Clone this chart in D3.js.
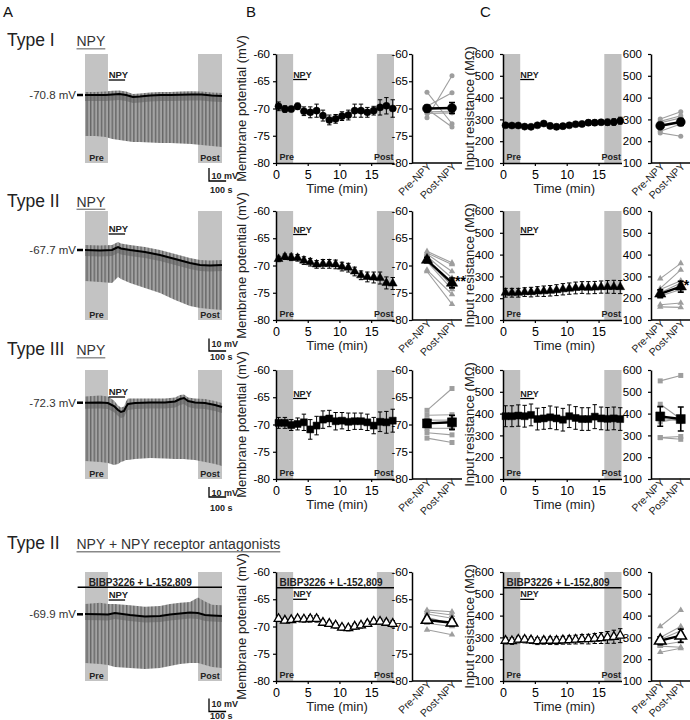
<!DOCTYPE html>
<html><head><meta charset="utf-8">
<script src="https://cdn.jsdelivr.net/npm/d3@7/dist/d3.min.js"></script>
<style>html,body{margin:0;padding:0;background:#fff;}</style>
</head><body><div id="chart"></div>
<script>
// ================= DATA =================
// B/C time-course (minutes)
const timeMin = [0.4,1.4,2.4,3.4,4.4,5.4,6.4,7.4,8.4,9.4,10.4,11.4,12.4,13.4,14.4,15.4,16.4,17.4,18.4];
const timeTicks = [0,5,10,15];
const mpTicks = [-80,-75,-70,-65,-60];
const rinTicks = [100,200,300,400,500,600];
const prePostLabels = ["Pre-NPY","Post-NPY"];

// Membrane potential (mV), mean ± SEM
const mpType1 = [-69.6,-70.1,-70.1,-69.6,-70.5,-70.7,-70.4,-71.3,-72.1,-71.9,-71.4,-71.2,-70.4,-70.4,-70.7,-70.4,-69.8,-69.5,-70.0];
const mpType1Err = [0.8,0.6,0.5,0.6,0.8,1.0,1.2,1.0,0.9,0.8,0.8,0.9,1.2,1.2,0.9,0.8,1.4,1.5,1.6];
const mpType2 = [-68.8,-68.4,-68.5,-68.6,-69.1,-69.4,-69.8,-69.7,-69.7,-69.8,-70.2,-70.4,-71.1,-71.8,-72.1,-72.2,-72.3,-73.2,-73.3];
const mpType2Err = [0.5,0.5,0.6,0.6,0.7,0.7,0.7,0.8,0.8,0.8,0.8,0.8,0.8,0.8,0.9,1.0,1.1,1.1,1.1];
const mpType3 = [-69.7,-69.7,-70.1,-69.9,-69.6,-70.9,-70.2,-69.1,-68.9,-69.4,-69.3,-69.5,-69.4,-69.4,-69.6,-70.2,-69.5,-69.6,-69.3];
const mpType3Err = [1.0,1.0,1.0,1.1,1.5,1.8,1.7,1.6,1.5,1.6,1.5,1.6,1.5,1.5,1.5,1.5,1.8,2.0,2.1];
const mpAnt = [-68.6,-68.9,-68.8,-68.6,-68.7,-68.6,-68.6,-69.3,-69.5,-69.8,-70.2,-70.3,-70.0,-69.8,-69.5,-69.1,-69.1,-69.3,-69.5];
const mpAntErr = [0.5,0.4,0.4,0.5,0.5,0.6,0.6,0.5,0.5,0.5,0.5,0.5,0.5,0.5,0.5,0.5,0.5,0.5,0.6];

// Input resistance (MOhm), mean ± SEM
const rinType1 = [273,272,272,267,266,273,281,270,266,269,273,278,279,285,285,287,287,288,294];
const rinType1Err = [8,8,8,8,8,8,10,12,12,12,10,10,12,12,12,12,14,15,16];
const rinType2 = [225,225,225,228,228,231,232,234,237,241,244,247,249,248,249,251,252,252,251];
const rinType2Err = [20,20,20,20,22,22,24,24,25,26,26,27,27,28,28,28,29,30,30];
const rinType3 = [388,388,391,388,394,375,378,383,378,372,388,380,375,375,386,378,376,378,375];
const rinType3Err = [48,48,49,50,50,50,50,52,52,52,52,52,52,52,55,52,52,52,52];
const rinAnt = [285,283,290,290,287,283,285,285,285,287,288,290,292,292,295,297,300,303,308];
const rinAntErr = [15,15,15,15,15,16,16,17,18,18,19,20,21,22,23,25,27,30,32];

// Individual cells, pre vs post
const mpType1Pre  = [-67.0,-69.6,-70.1,-70.6,-70.9,-71.7];
const mpType1Post = [-72.8,-67.1,-73.4,-70.5,-70.8,-64.0];
const mpType1Mean = [-70.0,-69.9], mpType1MeanErr = [0.6,1.0];
const mpType2Pre  = [-67.4,-67.7,-67.9,-68.3,-68.9,-69.3,-70.8,-71.1];
const mpType2Post = [-69.5,-69.8,-71.1,-72.3,-73.8,-74.4,-75.3,-77.1];
const mpType2Mean = [-69.0,-73.2], mpType2MeanErr = [0.5,0.9];
const mpType3Pre  = [-67.4,-68.3,-69.2,-70.7,-71.5,-72.5];
const mpType3Post = [-63.4,-68.2,-69.2,-70.7,-71.9,-73.3];
const mpType3Mean = [-69.8,-69.6], mpType3MeanErr = [0.7,1.3];
const mpAntPre  = [-67.0,-67.3,-67.7,-68.3,-69.4,-70.6];
const mpAntPost = [-67.3,-67.9,-68.5,-69.5,-70.0,-71.5];
const mpAntMean = [-68.8,-69.3], mpAntMeanErr = [0.5,0.6];

const rinType1Pre  = [238,246,268,284,291,302];
const rinType1Post = [223,279,290,307,317,335];
const rinType1Mean = [271,288], rinType1MeanErr = [10,16];
const rinType2Pre  = [290,245,240,225,210,170,160];
const rinType2Post = [360,330,280,270,240,178,158];
const rinType2Mean = [220,253], rinType2MeanErr = [18,25];
const rinType3Pre  = [550,443,380,362,290,290];
const rinType3Post = [575,375,365,378,295,282];
const rinType3Mean = [387,375], rinType3MeanErr = [45,55];
const rinAntPre  = [350,300,290,265,260,232];
const rinAntPost = [425,350,330,280,255,250];
const rinAntMean = [285,308], rinAntMeanErr = [18,30];

// Protocol windows (min)
const timeDomain = [0, 18.6];
const preWindow = [0, 2.7];
const postWindow = [15.9, 18.6];
const npyWindow = [2.7, 4.9];

// A: example traces (time in s, voltage in mV)
const restMp = [-70.8, -67.7, -72.3, -69.9];
const traceT1 = [0,60,120,160,200,240,280,320,380,440,500,560,620,680,740,800];
const traceBase1 = [-70.8,-70.8,-70.8,-70.4,-70.0,-70.8,-72.3,-72.0,-71.2,-70.8,-70.8,-70.6,-70.4,-70.4,-71.2,-71.6];
const traceTop1 = [-68.5,-68.4,-68.2,-67.6,-67.4,-68.2,-70.0,-69.6,-68.9,-68.5,-68.5,-68.1,-68.0,-68.2,-68.8,-69.3];
const traceBot1 = [-102.3,-102.3,-103.1,-104.6,-105.4,-106.2,-107.0,-107.0,-107.3,-107.7,-107.7,-108.1,-108.5,-109.3,-110.0,-110.8];
const traceT2 = [0,88,158,181,193,210,263,350,438,526,613,672,730,800];
const traceBase2 = [-67.7,-68.1,-67.7,-66.1,-65.3,-66.5,-67.7,-69.3,-71.7,-74.9,-78.1,-79.7,-80.1,-79.7];
const traceTop2 = [-63.7,-64.1,-63.7,-62.1,-61.3,-62.5,-63.7,-65.3,-67.7,-70.9,-74.1,-75.7,-76.1,-75.7];
const traceBot2 = [-92.5,-93.3,-94.1,-90.9,-89.3,-90.9,-94.1,-98.1,-102.1,-107.7,-112.5,-114.1,-114.9,-115.7];
const traceT3 = [0,88,134,169,193,210,228,239,251,292,380,467,526,555,578,602,642,701,759,800];
const traceBase3 = [-72.3,-72.1,-72.6,-75.6,-79.6,-81.6,-80.6,-76.6,-73.6,-72.6,-72.1,-72.1,-71.1,-68.6,-67.6,-70.6,-72.1,-72.6,-74.6,-76.6];
const traceTop3 = [-66,-65,-66,-70,-75,-77,-76,-71,-68,-68,-68,-68,-67,-64.5,-64,-67,-68,-68.5,-70.5,-72.5];
const traceBot3 = [-130.6,-131.6,-132.6,-134.6,-133.6,-131.6,-130.6,-129.6,-129.6,-128.6,-127.6,-128.1,-128.6,-128.6,-128.6,-129.1,-129.6,-131.6,-133.6,-135.6];
const traceT4 = [0,88,134,175,263,350,438,496,555,613,660,701,742,800];
const traceBase4 = [-69.7,-69.9,-70.1,-68.9,-70.4,-71.6,-71.2,-70.1,-69.3,-68.5,-68.9,-70.4,-70.8,-71.2];
const traceTop4 = [-62,-61,-62,-62,-63,-64,-63.5,-62,-61,-60.5,-57,-60,-62.5,-63];
const traceBot4 = [-107.4,-108.1,-108.9,-110.4,-111.2,-112.0,-111.2,-109.7,-108.1,-107.4,-107.4,-108.9,-110.4,-111.2];
const tracePreSec = [0, 134];
const tracePostSec = [660, 800];
const traceNpySec = [138, 234];
const traceAntSec = [-43, 800];

const typeLabels = ["Type I","Type II","Type III","Type II"];
const drugLabels = ["NPY","NPY","NPY","NPY + NPY receptor antagonists"];
const antagonistLabel = "BIBP3226 + L-152,809";

// ================= LAYOUT =================
const FONT = "'Liberation Sans', Arial, Helvetica, sans-serif";
const NARROW = "'Liberation Sans Narrow', 'Arial Narrow', 'Liberation Sans', Arial, sans-serif";
const W = 690, H = 720;
const rowTop = [54, 211, 370, 572];
const rowH = 109;
const headingY = [46, 206.5, 355, 549];
const traceY0 = [95, 250, 402.7, 614.3];
const traceGain = [1.3, 1.25, 1.0, 1.3];
const traceNpyY = [80, 234, 397, 600];
const scaleCornerY = [181, 351, 497, 711.5];
const scaleMvY = [179, 347, 495.5, 707];
const scaleSecY = [193, 360, 511, 719];
const mainNpyY = [25.5, 23.5, 28.5, 27.3];

const svg = d3.select("#chart").append("svg").attr("width", W).attr("height", H)
  .attr("font-family", FONT);
const defs = svg.append("defs");
const pat = defs.append("pattern").attr("id","pulses").attr("patternUnits","userSpaceOnUse")
  .attr("width",3.6).attr("height",8);
pat.append("rect").attr("width",3.6).attr("height",8).attr("fill","#a3a3a3");
pat.append("rect").attr("width",1.4).attr("height",8).attr("fill","#666");

// Panel letters
[["A",3],["B",246],["C",480]].forEach(([s,x]) =>
  svg.append("text").attr("x",x).attr("y",17).attr("font-size",15).attr("fill","#111").text(s));

// Row headings
typeLabels.forEach((s,i) => {
  svg.append("text").attr("x",7).attr("y",headingY[i]).attr("font-size",17.5).attr("fill","#222").text(s);
  const t = svg.append("text").attr("x",76.5).attr("y",headingY[i]).attr("font-size",14).attr("fill","#333").text(drugLabels[i]);
  const len = t.node().getComputedTextLength();
  svg.append("line").attr("x1",76.5).attr("x2",76.5+len).attr("y1",headingY[i]+2.8).attr("y2",headingY[i]+2.8)
    .attr("stroke","#888").attr("stroke-width",1.4);
});

// ---------- A: traces ----------
const traceX = d3.scaleLinear().domain([0, 800]).range([85, 222]);
const traceSets = [
  {t: traceT1, base: traceBase1, top: traceTop1, bot: traceBot1},
  {t: traceT2, base: traceBase2, top: traceTop2, bot: traceBot2},
  {t: traceT3, base: traceBase3, top: traceTop3, bot: traceBot3},
  {t: traceT4, base: traceBase4, top: traceTop4, bot: traceBot4}
];

function boldLabel(g, x, y, s, anchor, size) {
  return g.append("text").attr("x",x).attr("y",y).attr("font-family",NARROW).attr("font-weight","bold")
    .attr("font-size",size || 9).attr("fill","#222").attr("text-anchor",anchor || "start").text(s);
}

traceSets.forEach((d, i) => {
  const g = svg.append("g");
  const top = rowTop[i], bot = rowTop[i] + rowH;
  const v0 = restMp[i], y0 = traceY0[i], gain = traceGain[i];
  const ty = d3.scaleLinear().domain([v0 - 10, v0]).range([y0 + 10*gain, y0]);
  [tracePreSec, tracePostSec].forEach(w =>
    g.append("rect").attr("x",traceX(w[0])).attr("width",traceX(w[1])-traceX(w[0]))
      .attr("y",top).attr("height",rowH).attr("fill","#c3c3c3"));
  const idx = d3.range(d.t.length);
  const area = d3.area().x(k => traceX(d.t[k])).y0(k => ty(d.bot[k])).y1(k => ty(d.top[k]));
  g.append("path").attr("d", area(idx)).attr("fill","url(#pulses)");
  // darker band just under the resting trace (dense pulse onsets)
  const band = d3.area().x(k => traceX(d.t[k])).y0(k => ty(d.base[k]) + 6).y1(k => ty(d.base[k]));
  g.append("path").attr("d", band(idx)).attr("fill","#5e5e5e").attr("opacity",0.55);
  const line = d3.line().x(k => traceX(d.t[k])).y(k => ty(d.base[k]));
  g.append("path").attr("d", line(idx)).attr("fill","none").attr("stroke","#000").attr("stroke-width",2);
  // rest potential label
  g.append("text").attr("x",76).attr("y",ty(v0)+4).attr("text-anchor","end").attr("font-size",11.5)
    .attr("fill","#333").text(v0.toFixed(1) + " mV");
  g.append("line").attr("x1",77).attr("x2",83).attr("y1",ty(v0)).attr("y2",ty(v0)).attr("stroke","#000").attr("stroke-width",2.5);
  // Pre / Post
  boldLabel(g, (traceX(tracePreSec[0])+traceX(tracePreSec[1]))/2, bot-2, "Pre", "middle");
  boldLabel(g, (traceX(tracePostSec[0])+traceX(tracePostSec[1]))/2, bot-2, "Post", "middle");
  // NPY bar
  boldLabel(g, traceX(traceNpySec[0]), traceNpyY[i]-2, "NPY", "start", 9.5);
  g.append("line").attr("x1",traceX(traceNpySec[0])).attr("x2",traceX(traceNpySec[1]))
    .attr("y1",traceNpyY[i]).attr("y2",traceNpyY[i]).attr("stroke","#000").attr("stroke-width",1.3);
  if (i === 3) {
    g.append("line").attr("x1",traceX(traceAntSec[0])).attr("x2",traceX(traceAntSec[1]))
      .attr("y1",587.3).attr("y2",587.3).attr("stroke","#000").attr("stroke-width",1.5);
    boldLabel(g, traceX(traceNpySec[0]) - 20, 585.5, antagonistLabel, "start", 10);
  }
  // scale bar: 10 mV, 100 s
  const cy = scaleCornerY[i], cx = 209;
  const vLen = ty(v0 - 10) - ty(v0);
  const hLen = traceX(100) - traceX(0);
  g.append("path").attr("d", `M${cx},${cy - vLen}V${cy}H${cx + hLen}`).attr("fill","none")
    .attr("stroke","#000").attr("stroke-width",1.3);
  boldLabel(g, cx + 2.5, scaleMvY[i], "10 mV", "start", 9);
  boldLabel(g, cx + 1, scaleSecY[i], "100 s", "start", 9);
});

// ---------- B & C ----------
const panels = {
  B: {x0:276, x1:394, yDomain:[-80,-60], yTicks: mpTicks, sx0:412, sx1:467, spad:0.6, sAxisEnd:462, sPad:1,
      ylab:"Membrane potential (mV)", ylabX:246, tickPad:3},
  C: {x0:503, x1:621.5, yDomain:[100,600], yTicks: rinTicks, sx0:651, sx1:690, spad:0.45, sAxisEnd:690, sPad:6,
      ylab:"Input resistance (M\u03A9)", ylabX:473.5, tickPad:6}
};

const rowsData = [
  {B:{v:mpType1, e:mpType1Err, pre:mpType1Pre, post:mpType1Post, m:mpType1Mean, me:mpType1MeanErr, star:""},
   C:{v:rinType1, e:rinType1Err, pre:rinType1Pre, post:rinType1Post, m:rinType1Mean, me:rinType1MeanErr, star:""},
   shape:"circle", open:false},
  {B:{v:mpType2, e:mpType2Err, pre:mpType2Pre, post:mpType2Post, m:mpType2Mean, me:mpType2MeanErr, star:"**"},
   C:{v:rinType2, e:rinType2Err, pre:rinType2Pre, post:rinType2Post, m:rinType2Mean, me:rinType2MeanErr, star:"*"},
   shape:"triangle", open:false},
  {B:{v:mpType3, e:mpType3Err, pre:mpType3Pre, post:mpType3Post, m:mpType3Mean, me:mpType3MeanErr, star:""},
   C:{v:rinType3, e:rinType3Err, pre:rinType3Pre, post:rinType3Post, m:rinType3Mean, me:rinType3MeanErr, star:""},
   shape:"square", open:false},
  {B:{v:mpAnt, e:mpAntErr, pre:mpAntPre, post:mpAntPost, m:mpAntMean, me:mpAntMeanErr, star:""},
   C:{v:rinAnt, e:rinAntErr, pre:rinAntPre, post:rinAntPost, m:rinAntMean, me:rinAntMeanErr, star:""},
   shape:"triangle", open:true}
];

function symType(shape) {
  return shape === "circle" ? d3.symbolCircle : shape === "square" ? d3.symbolSquare : d3.symbolTriangle;
}
const sizes = {
  main: {circle:40, square:49, triangle:34},
  mean: {circle:64, square:81, triangle:56},
  ind:  {circle:20, square:25, triangle:18}
};

function styleAxis(g) {
  g.attr("font-family", NARROW).attr("font-size", 11.5);
  g.select(".domain").attr("stroke","#000").attr("stroke-width",1.5);
  g.selectAll(".tick line").attr("stroke","#000").attr("stroke-width",1.2);
  g.selectAll(".tick text").attr("fill","#000");
}

function errBar(g, x, yLo, yHi, cap, w) {
  g.append("path").attr("d", `M${x},${yLo}V${yHi}M${x-cap},${yLo}H${x+cap}M${x-cap},${yHi}H${x+cap}`)
    .attr("fill","none").attr("stroke","#000").attr("stroke-width", w || 1);
}

rowsData.forEach((row, i) => {
  ["B","C"].forEach(key => {
    const P = panels[key], D = row[key];
    const top = rowTop[i], bot = rowTop[i] + rowH;
    const g = svg.append("g");
    const x = d3.scaleLinear().domain(timeDomain).range([P.x0, P.x1]);
    const y = d3.scaleLinear().domain(P.yDomain).range([bot, top]);
    [preWindow, postWindow].forEach(w =>
      g.append("rect").attr("x",x(w[0])).attr("width",x(w[1])-x(w[0])).attr("y",top).attr("height",rowH).attr("fill","#c0c0c0"));
    boldLabel(g, x(preWindow[0]) + 3.5, bot - 3, "Pre", "start");
    boldLabel(g, x(postWindow[1]) - 0.5, bot - 3, "Post", "end");
    const ny = top + mainNpyY[i];
    boldLabel(g, x(npyWindow[0]), ny - 2, "NPY", "start");
    g.append("line").attr("x1",x(npyWindow[0])).attr("x2",x(npyWindow[1])).attr("y1",ny).attr("y2",ny)
      .attr("stroke","#000").attr("stroke-width",1.3);
    if (row.open) {
      g.append("line").attr("x1",x(timeDomain[0])).attr("x2",x(timeDomain[1])).attr("y1",top+15.7).attr("y2",top+15.7)
        .attr("stroke","#000").attr("stroke-width",1.5);
      boldLabel(g, x(timeDomain[0]) + 3.5, top + 14, antagonistLabel, "start", 10);
    }
    // axes
    const ya = g.append("g").attr("transform",`translate(${P.x0},0)`)
      .call(d3.axisLeft(y).tickValues(P.yTicks).tickSize(3).tickSizeOuter(0).tickPadding(P.tickPad).tickFormat(d => String(d)));
    styleAxis(ya);
    const xa = g.append("g").attr("transform",`translate(0,${bot})`)
      .call(d3.axisBottom(x).tickValues(timeTicks).tickSize(3).tickSizeOuter(0).tickPadding(4).tickFormat(d => String(d)));
    styleAxis(xa);
    xa.attr("font-size", 12.5);
    g.append("text").attr("x",(P.x0+P.x1)/2 + 2).attr("y",bot + 30).attr("text-anchor","middle")
      .attr("font-size",13).attr("fill","#222").text("Time (min)");
    g.append("text").attr("transform",`translate(${P.ylabX},${(top+bot)/2}) rotate(-90)`)
      .attr("text-anchor","middle").attr("font-size",13).attr("fill","#222").text(P.ylab);
    // error bars + points
    timeMin.forEach((t,k) => errBar(g, x(t), y(D.v[k]-D.e[k]), y(D.v[k]+D.e[k]), 2.2, 1));
    const sym = d3.symbol().type(symType(row.shape)).size(sizes.main[row.shape]);
    g.selectAll(null).data(timeMin).join("path")
      .attr("d", sym).attr("transform",(t,k) => `translate(${x(t)},${y(D.v[k])})`)
      .attr("fill", row.open ? "#fff" : "#000").attr("stroke","#000").attr("stroke-width", row.open ? 1.3 : 0.5);

    // ---- small pre/post panel ----
    const xs = d3.scalePoint().domain(prePostLabels).range([P.sx0, P.sx1]).padding(P.spad);
    const sya = g.append("g").attr("transform",`translate(${P.sx0},0)`)
      .call(d3.axisLeft(y).tickValues(P.yTicks).tickSize(3).tickSizeOuter(0).tickPadding(P.sPad).tickFormat(d => String(d)));
    styleAxis(sya);
    g.append("line").attr("x1",P.sx0).attr("x2",P.sAxisEnd).attr("y1",bot).attr("y2",bot)
      .attr("stroke","#000").attr("stroke-width",1.5);
    prePostLabels.forEach(c =>
      g.append("text").attr("transform",`translate(${xs(c)+5},${bot+4}) rotate(-45)`)
        .attr("text-anchor","end").attr("font-family",NARROW).attr("font-size",10.5).attr("fill","#222").text(c));
    const xPre = xs(prePostLabels[0]), xPost = xs(prePostLabels[1]);
    D.pre.forEach((v,k) => g.append("line").attr("x1",xPre).attr("x2",xPost).attr("y1",y(v)).attr("y2",y(D.post[k]))
      .attr("stroke","#9e9e9e").attr("stroke-width",1.1));
    const isym = d3.symbol().type(symType(row.shape)).size(sizes.ind[row.shape]);
    D.pre.forEach((v,k) => {
      g.append("path").attr("d",isym).attr("transform",`translate(${xPre},${y(v)})`).attr("fill","#9e9e9e");
      g.append("path").attr("d",isym).attr("transform",`translate(${xPost},${y(D.post[k])})`).attr("fill","#9e9e9e");
    });
    g.append("line").attr("x1",xPre).attr("x2",xPost).attr("y1",y(D.m[0])).attr("y2",y(D.m[1]))
      .attr("stroke","#000").attr("stroke-width",2.4);
    [xPre, xPost].forEach((xx,k) => errBar(g, xx, y(D.m[k]-D.me[k]), y(D.m[k]+D.me[k]), 3, 1.6));
    const msym = d3.symbol().type(symType(row.shape)).size(sizes.mean[row.shape]);
    [xPre, xPost].forEach((xx,k) => g.append("path").attr("d",msym).attr("transform",`translate(${xx},${y(D.m[k])})`)
      .attr("fill", row.open ? "#fff" : "#000").attr("stroke","#000").attr("stroke-width", row.open ? 1.6 : 0.5));
    if (D.star) {
      g.append("text").attr("x",xPost+3).attr("y",y(D.m[1])+3).attr("font-size",14).attr("font-weight","bold")
        .attr("fill","#000").text(D.star);
    }
  });
});
</script>
</body></html>
